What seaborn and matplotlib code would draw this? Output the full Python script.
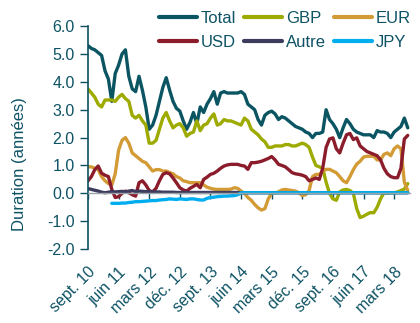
import numpy as np
import pandas as pd
import matplotlib
matplotlib.use("Agg")
import matplotlib.pyplot as plt
import seaborn as sns

# Duration by currency, monthly from Sep 2010 to Jul 2018
total = [5.3, 5.2, 5.15, 5.05, 4.95, 4.4, 4.1, 3.3, 4.3, 4.6,
         5.0, 5.15, 4.2, 3.75, 3.65, 4.2, 3.7, 3.1, 2.3, 2.45,
         2.8, 3.3, 3.8, 4.15, 3.7, 3.3, 3.05, 2.95, 2.6, 2.3,
         2.55, 2.9, 2.5, 3.1, 2.9, 3.2, 3.4, 3.65, 3.2, 3.6,
         3.65, 3.6, 3.6, 3.6, 3.6, 3.65, 3.55, 3.2, 3.1, 3.0,
         2.65, 2.45, 2.8, 2.9, 2.95, 2.85, 2.65, 2.75, 2.7, 2.6,
         2.5, 2.4, 2.35, 2.3, 2.2, 2.15, 2.0, 2.15, 2.15, 2.2,
         3.0, 2.65, 2.5, 2.3, 2.0, 2.35, 2.65, 2.5, 2.3, 2.2,
         2.15, 2.1, 2.1, 2.1, 2.0, 2.25, 2.2, 2.2, 2.15, 2.0,
         2.2, 2.3, 2.4, 2.7, 2.35]
gbp = [3.75, 3.6, 3.45, 3.2, 3.1, 3.35, 3.35, 3.35, 3.3, 3.45,
       3.55, 3.4, 3.3, 2.8, 2.7, 2.8, 2.6, 2.45, 1.8, 1.8,
       1.9, 2.3, 2.7, 2.9, 2.6, 2.35, 2.45, 2.5, 2.35, 2.05,
       2.15, 2.2, 2.6, 2.25, 2.45, 2.5, 2.7, 2.85, 2.45, 2.5,
       2.65, 2.6, 2.6, 2.55, 2.5, 2.45, 2.7, 2.6, 2.3, 2.2,
       2.1, 1.95, 1.85, 1.65, 1.65, 1.7, 1.7, 1.7, 1.75, 1.75,
       1.7, 1.7, 1.75, 1.8, 1.75, 1.65, 1.3, 1.0, 0.95, 0.9,
       0.4, 0.0, -0.2, -0.25, 0.05, 0.12, 0.14, 0.1, 0.0, -0.55,
       -0.87, -0.82, -0.75, -0.69, -0.7, -0.5, -0.2, 0.02, 0.0, 0.02,
       0.02, 0.05, 0.1, 0.15, 0.35]
eur = [0.95, 0.95, 0.9, 0.85, 0.6, 0.45, 0.35, 0.3, 0.7, 1.55,
       1.9, 2.0, 1.8, 1.45, 1.35, 1.25, 1.15, 1.1, 0.95, 0.8,
       0.85, 0.85, 0.8, 0.8, 0.75, 0.7, 0.6, 0.55, 0.45, 0.42,
       0.38, 0.38, 0.38, 0.38, 0.3, 0.22, 0.18, 0.15, 0.14, 0.14,
       0.14, 0.14, 0.15, 0.2, 0.18, 0.08, 0.0, -0.15, -0.25, -0.4,
       -0.52, -0.6, -0.55, -0.2, 0.0, 0.02, 0.05, 0.12, 0.14, 0.12,
       0.1, 0.08, 0.02, -0.08, -0.05, 0.1, 0.6, 0.68, 0.68, 0.78,
       0.86, 0.86, 0.8, 0.74, 0.6, 0.45, 0.38, 0.6, 0.85, 1.05,
       1.15, 1.3, 1.33, 1.33, 1.33, 1.2, 1.2, 1.4, 1.45, 1.35,
       1.6, 1.7, 1.6, 0.4, 0.1]
usd = [0.45, 0.6, 0.85, 0.98, 0.72, 0.65, 0.6, 0.14, -0.15, -0.12,
       0.0, 0.08, 0.02, -0.05, -0.1, 0.38, 0.45, 0.3, 0.1, 0.05,
       0.18, 0.45, 0.68, 0.74, 0.7, 0.55, 0.38, 0.2, 0.12, 0.08,
       0.18, 0.25, 0.32, 0.2, 0.5, 0.58, 0.68, 0.72, 0.8, 0.9,
       0.98, 1.02, 1.04, 1.04, 1.04, 1.0, 0.98, 0.86, 1.1, 1.1,
       1.12, 1.15, 1.2, 1.25, 1.32, 1.2, 1.04, 1.0, 0.95, 0.85,
       0.74, 0.7, 0.68, 0.65, 0.6, 0.45, 0.5, 0.55, 0.5, 0.9,
       1.65, 1.95, 1.99, 1.6, 1.45, 1.8, 2.1, 2.15, 1.93, 1.99,
       1.7, 1.6, 1.5, 1.45, 1.4, 1.35, 1.2, 0.9, 0.7, 0.6,
       0.56, 0.56, 0.9, 1.95, 2.08]
autre = [0.17, 0.14, 0.11, 0.08, 0.04, 0.02, 0.04, 0.06, 0.05, 0.06,
         0.07, 0.05, 0.08, 0.1, 0.06, 0.08, 0.07, 0.06, 0.06, 0.05,
         0.05, 0.05, 0.04, 0.04, 0.04, 0.04, 0.03, 0.03, 0.03, 0.03,
         0.03, 0.03, 0.03, 0.03, 0.03, 0.03, 0.03, 0.03, 0.03, 0.03,
         0.03, 0.03, 0.03, 0.03, 0.03] + [0.02] * 50
jpy = [np.nan] * 7 + [
    -0.36, -0.36, -0.36, -0.35, -0.35, -0.33, -0.32, -0.3, -0.3, -0.29,
    -0.28, -0.27, -0.26, -0.26, -0.24, -0.23, -0.22, -0.2, -0.21, -0.22,
    -0.2, -0.21, -0.22, -0.2, -0.2, -0.22, -0.24, -0.24, -0.18, -0.15,
    -0.14, -0.12, -0.11, -0.1, -0.1, -0.09, -0.08, -0.05] + [0.02] * 50

series_names = ["Total", "GBP", "EUR", "USD", "Autre", "JPY"]
series_values = [total, gbp, eur, usd, autre, jpy]
colors = ["#0B5563", "#9DAA00", "#D39B36", "#8B1C2B", "#3E3C5E", "#00AEEF"]

tick_labels = ["sept. 10", "juin 11", "mars 12", "déc. 12", "sept. 13", "juin 14",
               "mars 15", "déc. 15", "sept. 16", "juin 17", "mars 18"]
tick_step = 9

n = len(total)
frames = []
for name, vals in zip(series_names, series_values):
    frames.append(pd.DataFrame({"mois": np.arange(n), "duration": vals, "serie": name}))
df = pd.concat(frames, ignore_index=True).dropna()

text_color = "#0E5365"
axis_color = "#0E5060"
FONT = ["Liberation Sans", "DejaVu Sans"]

sns.set_style("white")
plt.rcParams["font.family"] = FONT

fig = plt.figure(figsize=(4.2, 3.23), dpi=100)
ax = fig.add_axes([0.2095, 0.229, 0.767, 0.690])

sns.lineplot(data=df, x="mois", y="duration", hue="serie", hue_order=series_names,
             palette=dict(zip(series_names, colors)), linewidth=2.4, ax=ax,
             legend=True)

ax.set_xlim(0, 94.7)
ax.set_ylim(-2, 6)
ax.set_yticks(np.arange(-2, 7, 1))
ax.set_yticklabels([f"{v:.1f}" for v in np.arange(-2, 7, 1)])
ax.tick_params(axis="y", direction="out", length=6, width=1, color=axis_color,
               labelsize=11.5, labelcolor=text_color, pad=3.5, left=True)

# horizontal axis sits on the zero line
ax.spines["bottom"].set_position(("data", 0))
ax.spines["bottom"].set_color("#9AA5AA")
ax.spines["bottom"].set_linewidth(1.0)
ax.spines["left"].set_color(axis_color)
ax.spines["left"].set_linewidth(1.2)
ax.spines["top"].set_visible(False)
ax.spines["right"].set_visible(False)
ticks = np.arange(0, n, tick_step)[:len(tick_labels)]
ax.set_xticks(ticks)
ax.tick_params(axis="x", direction="out", length=4, width=1, color=axis_color,
               labelbottom=False, bottom=True)
ax.set_xlabel("")
ax.set_ylabel("Duration (années)", fontsize=12, color=text_color)
ax.yaxis.set_label_coords(-0.19, 0.38)

# date labels along the bottom of the plot area
sec = ax.secondary_xaxis("bottom")
sec.set_xticks(ticks)
sec.set_xticklabels(tick_labels)
sec.tick_params(length=0, pad=11, labelsize=11.5, labelcolor=text_color)
sec.spines["bottom"].set_visible(False)
for lbl in sec.get_xticklabels():
    lbl.set_rotation(45)
    lbl.set_ha("right")
    lbl.set_rotation_mode("anchor")

handles, labels = ax.get_legend_handles_labels()
lookup = dict(zip(labels, handles))
order = ["Total", "USD", "GBP", "Autre", "EUR", "JPY"]
leg = ax.legend([lookup[k] for k in order], order, ncol=3, frameon=False,
                loc="center", bbox_to_anchor=(0.678, 0.905),
                bbox_transform=fig.transFigure, fontsize=12,
                handlelength=2.3, handletextpad=0.2, columnspacing=0.5,
                labelspacing=0.55, borderpad=0)
for t in leg.get_texts():
    t.set_color(text_color)
for h in leg.get_lines():
    h.set_linewidth(3)

fig.savefig("out.png", dpi=100)
